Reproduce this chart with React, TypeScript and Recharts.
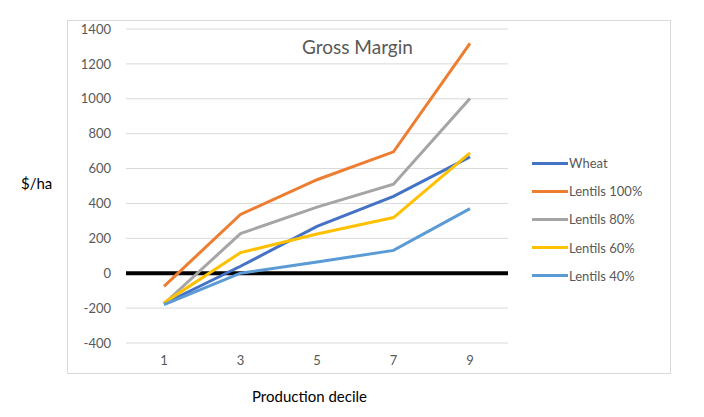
import React from "react";
import { LineChart, Line, XAxis, YAxis, CartesianGrid, ReferenceLine } from "recharts";

const deciles = ["1", "3", "5", "7", "9"];
const wheat = [-175, 40, 268, 441, 667];
const lentils100 = [-75, 337, 536, 696, 1318];
const lentils80 = [-175, 227, 379, 510, 1002];
const lentils60 = [-170, 118, 225, 319, 690];
const lentils40 = [-180, 0, 64, 131, 370];
const yTicks = [-400, -200, 0, 200, 400, 600, 800, 1000, 1200, 1400];

const series = [
  { key: "wheat", name: "Wheat", values: wheat, color: "#4472C4" },
  { key: "l100", name: "Lentils 100%", values: lentils100, color: "#ED7D31" },
  { key: "l80", name: "Lentils 80%", values: lentils80, color: "#A5A5A5" },
  { key: "l60", name: "Lentils 60%", values: lentils60, color: "#FFC000" },
  { key: "l40", name: "Lentils 40%", values: lentils40, color: "#5B9BD5" },
];

const data = deciles.map((d, i) => {
  const row: Record<string, string | number> = { decile: d };
  series.forEach((s) => (row[s.key] = s.values[i]));
  return row;
});

const FONT = "Lato, 'Liberation Sans', sans-serif";

export default function App() {
  return (
    <div style={{ position: "absolute", left: 0, top: 0, width: 704, height: 417, background: "#fff" }}>
      <div
        style={{
          position: "absolute",
          left: 67,
          top: 20,
          width: 602,
          height: 352,
          border: "1px solid #d9d9d9",
        }}
      />
      <div style={{ position: "absolute", left: 0, top: 0 }}>
        <LineChart
          width={704}
          height={417}
          data={data}
          margin={{ top: 29, right: 196, bottom: 0, left: 66 }}
        >
          <CartesianGrid vertical={false} stroke="#d9d9d9" strokeWidth={1} />
          <XAxis
            dataKey="decile"
            axisLine={false}
            tickLine={false}
            tickSize={6}
            tickMargin={7}
            height={74}
            padding={{ left: 38, right: 38 }}
            tick={{ fill: "#595959", fontSize: 13, fontFamily: FONT }}
          />
          <YAxis
            width={60}
            domain={[-400, 1400]}
            ticks={yTicks}
            axisLine={false}
            tickLine={false}
            tickSize={6}
            tickMargin={9}
            interval={0}
            tick={{ fill: "#595959", fontSize: 13, fontFamily: FONT }}
          />
          <ReferenceLine y={0} stroke="#000" strokeWidth={4} />
          {series.map((s) => (
            <Line
              key={s.key}
              dataKey={s.key}
              name={s.name}
              stroke={s.color}
              strokeWidth={3}
              dot={false}
              activeDot={false}
              isAnimationActive={false}
            />
          ))}
        </LineChart>
      </div>
      <div
        style={{
          position: "absolute",
          left: 532,
          top: 149,
          fontFamily: FONT,
          fontSize: 13,
          color: "#595959",
        }}
      >
        {series.map((s) => (
          <div key={s.key} style={{ display: "flex", alignItems: "center", height: 28.2 }}>
            <div style={{ width: 36, height: 3, background: s.color, marginRight: 1 }} />
            <span style={{ whiteSpace: "nowrap" }}>{s.name}</span>
          </div>
        ))}
      </div>
      <div
        style={{
          position: "absolute",
          left: 302,
          top: 35,
          fontFamily: FONT,
          fontSize: 19,
          color: "#595959",
          whiteSpace: "nowrap",
        }}
      >
        Gross Margin
      </div>
      <div
        style={{
          position: "absolute",
          left: 21,
          top: 174,
          fontFamily: FONT,
          fontSize: 15,
          color: "#000",
        }}
      >
        $/ha
      </div>
      <div
        style={{
          position: "absolute",
          left: 252,
          top: 387,
          fontFamily: FONT,
          fontSize: 15,
          color: "#000",
          whiteSpace: "nowrap",
        }}
      >
        Production decile
      </div>
    </div>
  );
}
